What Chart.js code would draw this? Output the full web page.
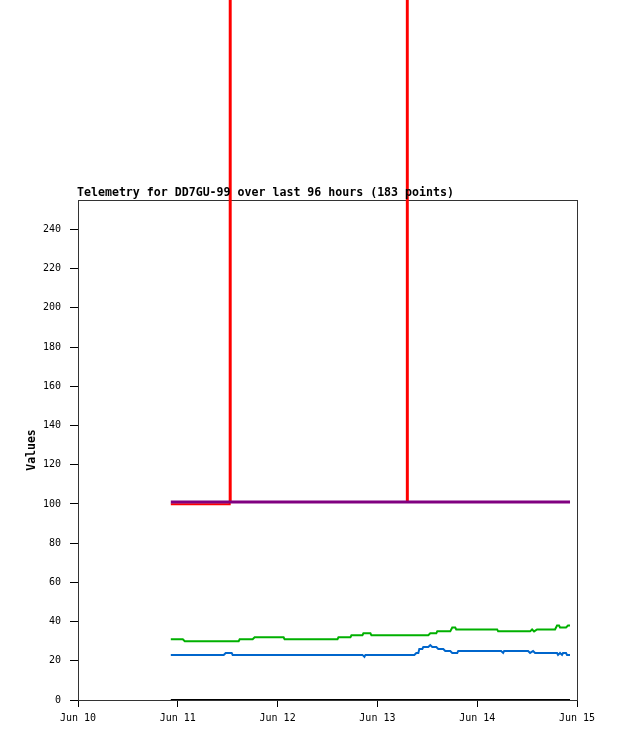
<!DOCTYPE html>
<html>
<head>
<meta charset="utf-8">
<script src="https://cdn.jsdelivr.net/npm/chart.js@4"></script>
<style>
  body { margin: 0; background: #fff; }
  canvas { display: block; }
</style>
</head>
<body>
<canvas id="myChart" width="618" height="741"></canvas>
<script>
// days of June (fractional) and readings for each trace
var titleText = "Telemetry for DD7GU-99 over last 96 hours (183 points)";
var xTickDays = [10, 11, 12, 13, 14, 15];
var yTicks = [0, 20, 40, 60, 80, 100, 120, 140, 160, 180, 200, 220, 240];

var redDays = [10.93, 11.52, 11.525, 11.53, 13.29, 13.295, 13.305, 14.93];
var redVals = [99.8, 99.8, 3000, 101, 101, 3000, 101, 101];

var purpleDays = [10.93, 14.93];
var purpleVals = [101, 101];

var greenDays = [10.93, 11.05, 11.07, 11.61, 11.62, 11.75, 11.77, 12.06, 12.07, 12.60,
  12.61, 12.73, 12.74, 12.85, 12.86, 12.93, 12.94, 13.51, 13.53, 13.59, 13.60, 13.73,
  13.75, 13.78, 13.79, 14.20, 14.21, 14.53, 14.55, 14.57, 14.60, 14.78, 14.80, 14.82,
  14.83, 14.89, 14.91, 14.93];
var greenVals = [31, 31, 30, 30, 31, 31, 32, 32, 31, 31,
  32, 32, 33, 33, 34, 34, 33, 33, 34, 34, 35, 35,
  37, 37, 36, 36, 35, 35, 36, 35, 36, 36, 38, 38,
  37, 37, 38, 38];

var blueDays = [10.93, 11.46, 11.48, 11.54, 11.55, 12.85, 12.87, 12.88, 13.37, 13.39,
  13.41, 13.42, 13.45, 13.46, 13.51, 13.53, 13.55, 13.59, 13.61, 13.66, 13.68, 13.73,
  13.75, 13.80, 13.81, 14.24, 14.26, 14.27, 14.51, 14.53, 14.56, 14.58, 14.80, 14.81,
  14.83, 14.85, 14.86, 14.89, 14.90, 14.93];
var blueVals = [23, 23, 24, 24, 23, 23, 22, 23, 23, 24,
  24, 26, 26, 27, 27, 28, 27, 27, 26, 26, 25, 25,
  24, 24, 25, 25, 24, 25, 25, 24, 25, 24, 24, 23,
  24, 23, 24, 24, 23, 23];

var blackDays = [10.93, 14.93];
var blackVals = [0, 0];

function pts(days, vals) {
  return days.map(function(d, i) { return {x: d, y: vals[i]}; });
}

var monoFont = "'DejaVu Sans Mono', 'Liberation Mono', monospace";

var framePlugin = {
  id: 'frame',
  beforeDatasetsDraw: function(chart) {
    var a = chart.chartArea, ctx = chart.ctx;
    ctx.save();
    ctx.strokeStyle = '#333';
    ctx.lineWidth = 1;
    ctx.strokeRect(a.left + 0.5, a.top + 0.5, a.right - a.left, a.bottom - a.top);
    ctx.restore();
  },
  afterDraw: function(chart) {
    var a = chart.chartArea, ctx = chart.ctx;
    ctx.save();
    ctx.font = "bold 11.6px " + monoFont;
    ctx.fillStyle = '#000';
    ctx.textAlign = 'left';
    ctx.textBaseline = 'bottom';
    ctx.fillText(titleText, a.left - 1, a.top - 1);
    ctx.restore();
  }
};

const ctx = document.getElementById('myChart');

new Chart(ctx, {
  type: 'line',
  data: {
    datasets: [
      {data: pts(blackDays, blackVals), borderColor: '#000', borderWidth: 2, order: 1},
      {data: pts(blueDays, blueVals), borderColor: '#0066cc', borderWidth: 2, order: 2},
      {data: pts(greenDays, greenVals), borderColor: '#00b000', borderWidth: 2, order: 3},
      {data: pts(purpleDays, purpleVals), borderColor: '#800080', borderWidth: 3, order: 4},
      {data: pts(redDays, redVals), borderColor: '#ff0000', borderWidth: 2, order: 5, clip: false}
    ]
  },
  options: {
    responsive: false,
    animation: false,
    parsing: false,
    elements: { point: { radius: 0 }, line: { tension: 0 } },
    layout: { padding: { top: 200, right: 41, left: 0, bottom: 0 } },
    plugins: { legend: { display: false }, tooltip: { enabled: false }, title: { display: false } },
    scales: {
      x: {
        type: 'linear',
        min: 10,
        max: 15,
        afterBuildTicks: function(scale) { scale.ticks = xTickDays.map(function(v) { return {value: v}; }); },
        afterFit: function(scale) { scale.height = 41; },
        grid: { drawOnChartArea: false, drawTicks: true, tickLength: 7, color: '#000' },
        border: { color: '#000' },
        ticks: {
          autoSkip: false, maxRotation: 0, padding: 5, color: '#000',
          font: { family: monoFont, size: 10 },
          callback: function(v) { return 'Jun ' + v; }
        }
      },
      y: {
        min: 0,
        max: 255,
        afterBuildTicks: function(scale) { scale.ticks = yTicks.map(function(v) { return {value: v}; }); },
        afterFit: function(scale) { scale.width = 78; },
        grid: { drawOnChartArea: false, drawTicks: true, tickLength: 8, color: '#000' },
        border: { color: '#000' },
        ticks: { padding: 9, color: '#000', font: { family: monoFont, size: 10 } },
        title: {
          display: true, text: 'Values', color: '#000',
          font: { family: monoFont, size: 11.5, weight: 'bold' },
          padding: { top: 25, bottom: 0 }
        }
      }
    }
  },
  plugins: [framePlugin]
});
</script>
</body>
</html>
